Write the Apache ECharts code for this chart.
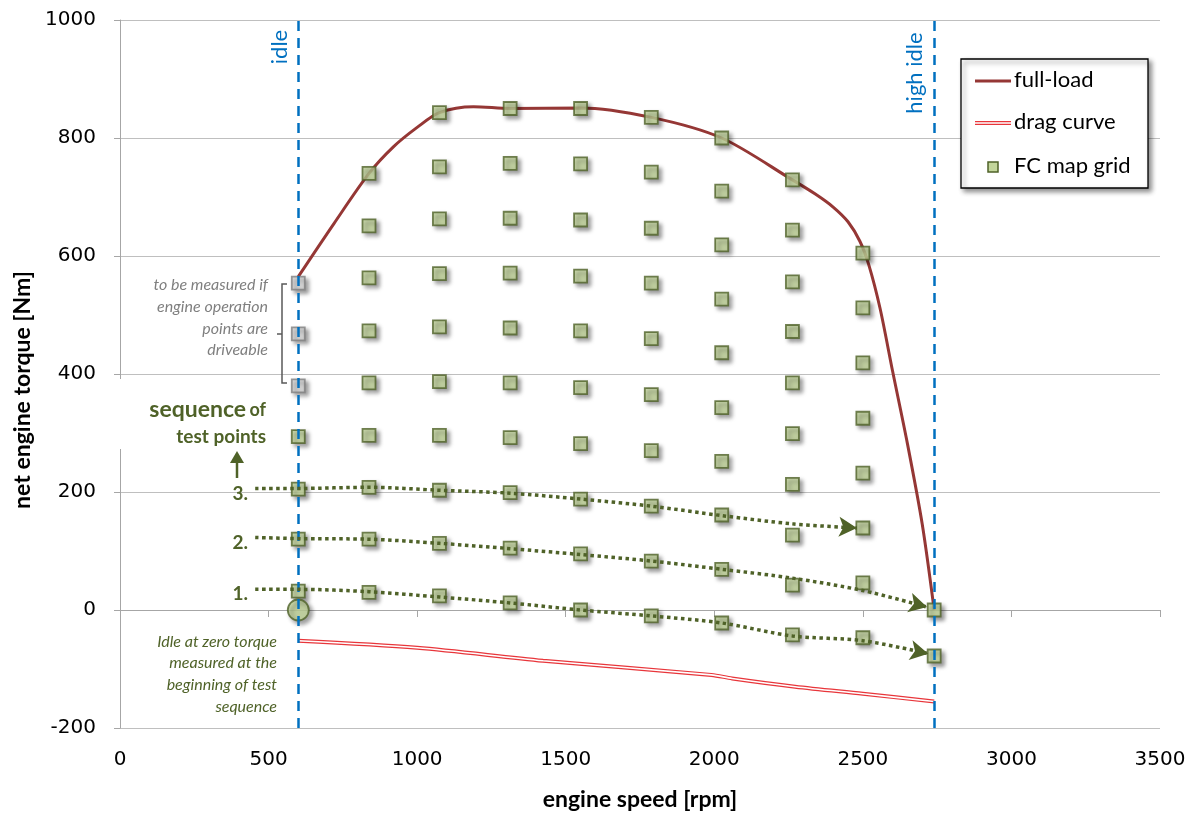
<!DOCTYPE html>
<html><head><meta charset="utf-8">
<script src="https://cdn.jsdelivr.net/npm/echarts@6/dist/echarts.min.js"></script>
<style>html,body{margin:0;padding:0;background:#fff}#c{width:1189px;height:816px}</style>
</head><body><div id="c"></div>
<script>
// ---- data ----
const xTickLabels = [0, 500, 1000, 1500, 2000, 2500, 3000, 3500];
const yTickLabels = [-200, 0, 200, 400, 600, 800, 1000];
const idleRpm = 600;
const highIdleRpm = 2740;
const fullLoad = [[600,565],[720,655],[838,740],[920,785],[1000,818],[1075,843],[1190,853],[1313,850],[1550,851],[1788,835],[2025,800],[2263,729],[2340,705],[2400,683],[2450,658],[2490,625],[2520,585],[2558,511],[2600,405],[2650,282],[2700,145],[2740,0]];
const dragCurve = [[600,-52],[1000,-64],[1424,-86],[1990,-110],[2060,-116],[2272,-130],[2500,-142],[2740,-155]];
const gridRpm = [600, 838, 1075, 1313, 1550, 1788, 2025, 2263, 2500, 2740];
const gridTorque = [
  [294,205,120,32],
  [740,651,563,473,385,296,208,120,30],
  [843,751,663,570,480,387,296,203,113,24],
  [850,757,664,571,478,385,292,199,105,12],
  [850,756,661,566,473,377,282,188,95,0],
  [835,742,647,554,460,365,270,176,83,-10],
  [800,710,619,527,436,343,252,161,69,-22],
  [729,644,556,472,385,299,213,127,42,-42],
  [605,512,419,325,232,139,46,-47],
  [0,-78]
];
const optionalTorque = [554, 468, 380]; // at idle, "to be measured if driveable"
const idleZero = [[600, 0]];
const seq1 = [[455,35],[600,35],[838,31],[1075,22],[1313,12],[1550,0],[1788,-10],[2025,-22],[2263,-44],[2500,-52],[2720,-74]];
const seq2 = [[455,123],[600,121],[838,120],[1075,113],[1313,104],[1550,94],[1788,83],[2025,69],[2263,54],[2500,33],[2716,5]];
const seq3 = [[455,206],[600,206],[838,208],[1075,203],[1313,198],[1550,188],[1788,176],[2025,160],[2263,146],[2480,139]];

// ---- build ----
const gridPts = [];
gridRpm.forEach((r, i) => gridTorque[i].forEach(t => gridPts.push([r, t])));
const optPts = optionalTorque.map(t => [idleRpm, t]);

const OLIVE = '#4f6228';
const GREEN = '#c3d69b';
const BLUE = '#0070c0';
const TICKFONT = '"DejaVu Sans", Verdana, sans-serif';
const mkStyle = (fill, border) => ({color: fill, borderColor: border, borderWidth: 1.8,
  shadowBlur: 4, shadowOffsetX: 3, shadowOffsetY: 3, shadowColor: 'rgba(0,0,0,0.45)'});

const chart = echarts.init(document.getElementById('c'), null, {renderer: 'canvas'});

function seqSeries(d, rot) {
  return {
    type: 'line', smooth: 0.3, z: 6, silent: true,
    symbol: 'none', showSymbol: true, showAllSymbol: true,
    lineStyle: {color: OLIVE, width: 3.5, type: [3.5, 3.5], cap: 'butt'},
    itemStyle: {color: OLIVE},
    data: d.map((p, i) => i === d.length - 1
      ? {value: p, symbol: 'arrow', symbolSize: [15, 18], symbolRotate: rot || 0}
      : {value: p})
  };
}

function buildOption(r1, r2, r3) {
  return {
    animation: false,
    backgroundColor: '#fff',
    grid: {left: 120, right: 29, top: 20, bottom: 86},
    xAxis: [{
      type: 'value', min: 0, max: 3500, interval: 500, position: 'bottom',
      axisLine: {show: false, onZero: false}, axisTick: {show: false}, splitLine: {show: false},
      axisLabel: {fontFamily: TICKFONT, fontSize: 20, color: '#000', margin: 22,
        formatter: v => xTickLabels.includes(v) ? String(v) : ''},
      name: 'engine speed [rpm]', nameLocation: 'middle', nameGap: 60,
      nameTextStyle: {fontFamily: 'Lato', fontWeight: 'bold', fontSize: 23, color: '#000'}
    }, {
      type: 'value', min: 0, max: 3500, interval: 500, position: 'top',
      axisLine: {show: true, onZero: true, lineStyle: {color: '#a6a6a6', width: 1}},
      axisTick: {show: true, inside: true, length: 7, lineStyle: {color: '#a6a6a6'}},
      axisLabel: {show: false}, splitLine: {show: false}
    }],
    yAxis: {
      type: 'value', min: -200, max: 1000, interval: 200,
      axisLine: {show: true, lineStyle: {color: '#a6a6a6', width: 1}},
      axisTick: {show: true, length: 6, lineStyle: {color: '#a6a6a6'}},
      splitLine: {show: true, lineStyle: {color: '#bfbfbf', width: 1}},
      axisLabel: {fontFamily: TICKFONT, fontSize: 20, color: '#000', margin: 24,
        formatter: v => yTickLabels.includes(v) ? String(v) : ''},
      name: 'net engine torque [Nm]', nameLocation: 'middle', nameGap: 86, nameRotate: 90,
      nameTextStyle: {fontFamily: 'Lato', fontWeight: 'bold', fontSize: 23, color: '#000', padding: [0, 32, 0, 0]}
    },
    series: [
      {name: 'full-load', type: 'line', smooth: 0.3, symbol: 'none', z: 2, silent: true,
        lineStyle: {color: '#953735', width: 3}, data: fullLoad},
      {name: 'drag curve', type: 'line', smooth: 0.3, symbol: 'none', z: 2, silent: true,
        lineStyle: {color: '#e8363b', width: 4}, data: dragCurve},
      {name: 'drag curve inner', type: 'line', smooth: 0.3, symbol: 'none', z: 3, silent: true,
        lineStyle: {color: '#ffffff', width: 1.6}, data: dragCurve},
      {name: 'FC map grid', type: 'scatter', symbol: 'rect', symbolSize: 13, z: 4, silent: true,
        itemStyle: mkStyle(GREEN, OLIVE), data: gridPts},
      {name: 'optional', type: 'scatter', symbol: 'rect', symbolSize: 13, z: 4, silent: true,
        itemStyle: mkStyle('#d9d9d9', '#7f7f7f'), data: optPts},
      {name: 'idle zero', type: 'scatter', symbol: 'circle', symbolSize: 21, z: 4, silent: true,
        itemStyle: mkStyle(GREEN, OLIVE), data: idleZero},
      seqSeries(seq1, r1), seqSeries(seq2, r2), seqSeries(seq3, r3),
      {name: 'limits', type: 'line', data: [], z: 8, silent: true,
        markLine: {silent: true, symbol: 'none', animation: false, label: {show: false},
          lineStyle: {color: BLUE, width: 2.5, type: [10, 7]},
          data: [{xAxis: idleRpm}, {xAxis: highIdleRpm}]}}
    ],
    graphic: [
      // idle labels
      {type: 'text', x: 280, y: 47, rotation: Math.PI / 2, z: 100,
        style: {text: 'idle', align: 'center', verticalAlign: 'middle', fill: BLUE, font: '22px Lato'}},
      {type: 'text', x: 915, y: 73, rotation: Math.PI / 2, z: 100,
        style: {text: 'high idle', align: 'center', verticalAlign: 'middle', fill: BLUE, font: '22px Lato'}},
      // "to be measured" note
      {type: 'text', x: 268, y: 285, z: 100, style: {text: 'to be measured if', align: 'right', verticalAlign: 'middle', fill: '#7f7f7f', font: 'italic 16px Lato'}},
      {type: 'text', x: 268, y: 307, z: 100, style: {text: 'engine operation', align: 'right', verticalAlign: 'middle', fill: '#7f7f7f', font: 'italic 16px Lato'}},
      {type: 'text', x: 268, y: 329, z: 100, style: {text: 'points are', align: 'right', verticalAlign: 'middle', fill: '#7f7f7f', font: 'italic 16px Lato'}},
      {type: 'text', x: 268, y: 350, z: 100, style: {text: 'driveable', align: 'right', verticalAlign: 'middle', fill: '#7f7f7f', font: 'italic 16px Lato'}},
      {type: 'polyline', z: 100, shape: {points: [[287, 284], [282, 284], [282, 383], [287, 383]]}, style: {stroke: '#595959', lineWidth: 1.5, fill: null}},
      {type: 'line', z: 100, shape: {x1: 282, y1: 334, x2: 277, y2: 334}, style: {stroke: '#595959', lineWidth: 1.5}},
      // sequence label
      {type: 'rect', z: 90, shape: {x: 112, y: 379, width: 160, height: 70}, style: {fill: '#fff'}},
      {type: 'text', x: 266, y: 410, z: 100, style: {
        text: '{a|sequence} {b|of}', align: 'right', verticalAlign: 'middle',
        rich: {a: {fontFamily: 'Lato', fontWeight: 'bold', fontSize: 23, fill: OLIVE},
               b: {fontFamily: 'Lato', fontWeight: 'bold', fontSize: 18, fill: OLIVE}}}},
      {type: 'text', x: 266, y: 437, z: 100, style: {text: 'test points', align: 'right', verticalAlign: 'middle', fill: OLIVE, font: 'bold 19px Lato'}},
      {type: 'line', z: 100, shape: {x1: 237, y1: 478, x2: 237, y2: 458}, style: {stroke: OLIVE, lineWidth: 2.5}},
      {type: 'polygon', z: 100, shape: {points: [[230, 463], [237, 451], [244, 463]]}, style: {fill: OLIVE}},
      {type: 'text', x: 248, y: 494, z: 100, style: {text: '3.', align: 'right', verticalAlign: 'middle', fill: OLIVE, font: 'bold 19px Lato'}},
      {type: 'text', x: 248, y: 543, z: 100, style: {text: '2.', align: 'right', verticalAlign: 'middle', fill: OLIVE, font: 'bold 19px Lato'}},
      {type: 'text', x: 248, y: 594, z: 100, style: {text: '1.', align: 'right', verticalAlign: 'middle', fill: OLIVE, font: 'bold 19px Lato'}},
      // idle at zero note
      {type: 'text', x: 277, y: 642, z: 100, style: {text: 'Idle at zero torque', align: 'right', verticalAlign: 'middle', fill: OLIVE, font: 'italic 16px Lato'}},
      {type: 'text', x: 277, y: 663, z: 100, style: {text: 'measured at the', align: 'right', verticalAlign: 'middle', fill: OLIVE, font: 'italic 16px Lato'}},
      {type: 'text', x: 277, y: 685, z: 100, style: {text: 'beginning of test', align: 'right', verticalAlign: 'middle', fill: OLIVE, font: 'italic 16px Lato'}},
      {type: 'text', x: 277, y: 707, z: 100, style: {text: 'sequence', align: 'right', verticalAlign: 'middle', fill: OLIVE, font: 'italic 16px Lato'}},
      // legend
      {type: 'rect', z: 100, shape: {x: 961, y: 59, width: 187, height: 129},
        style: {fill: '#fff', stroke: '#000', lineWidth: 1.3, shadowBlur: 5, shadowOffsetX: 3, shadowOffsetY: 3, shadowColor: 'rgba(0,0,0,0.45)'}},
      {type: 'line', z: 101, shape: {x1: 975, y1: 81, x2: 1011, y2: 81}, style: {stroke: '#953735', lineWidth: 3}},
      {type: 'text', x: 1014, y: 80, z: 101, style: {text: 'full-load', align: 'left', verticalAlign: 'middle', fill: '#000', font: '22px Lato'}},
      {type: 'line', z: 101, shape: {x1: 975, y1: 123, x2: 1011, y2: 123}, style: {stroke: '#e8363b', lineWidth: 4}},
      {type: 'line', z: 102, shape: {x1: 975, y1: 123, x2: 1011, y2: 123}, style: {stroke: '#fff', lineWidth: 1.6}},
      {type: 'text', x: 1014, y: 122, z: 101, style: {text: 'drag curve', align: 'left', verticalAlign: 'middle', fill: '#000', font: '22px Lato'}},
      {type: 'rect', z: 101, shape: {x: 988, y: 162, width: 10, height: 10}, style: {fill: GREEN, stroke: OLIVE, lineWidth: 1.5}},
      {type: 'text', x: 1014, y: 166, z: 101, style: {text: 'FC map grid', align: 'left', verticalAlign: 'middle', fill: '#000', font: '22px Lato'}}
    ]
  };
}

chart.setOption(buildOption(0, 0, 0));
function endRot(d) {
  const n = d.length;
  const a = chart.convertToPixel({xAxisIndex: 0, yAxisIndex: 0}, d[n - 2]);
  const b = chart.convertToPixel({xAxisIndex: 0, yAxisIndex: 0}, d[n - 1]);
  const ang = Math.atan2(-(b[1] - a[1]), b[0] - a[0]) * 180 / Math.PI;
  return ang - 90;
}
chart.setOption(buildOption(endRot(seq1), endRot(seq2), endRot(seq3)), true);
</script>
</body></html>
